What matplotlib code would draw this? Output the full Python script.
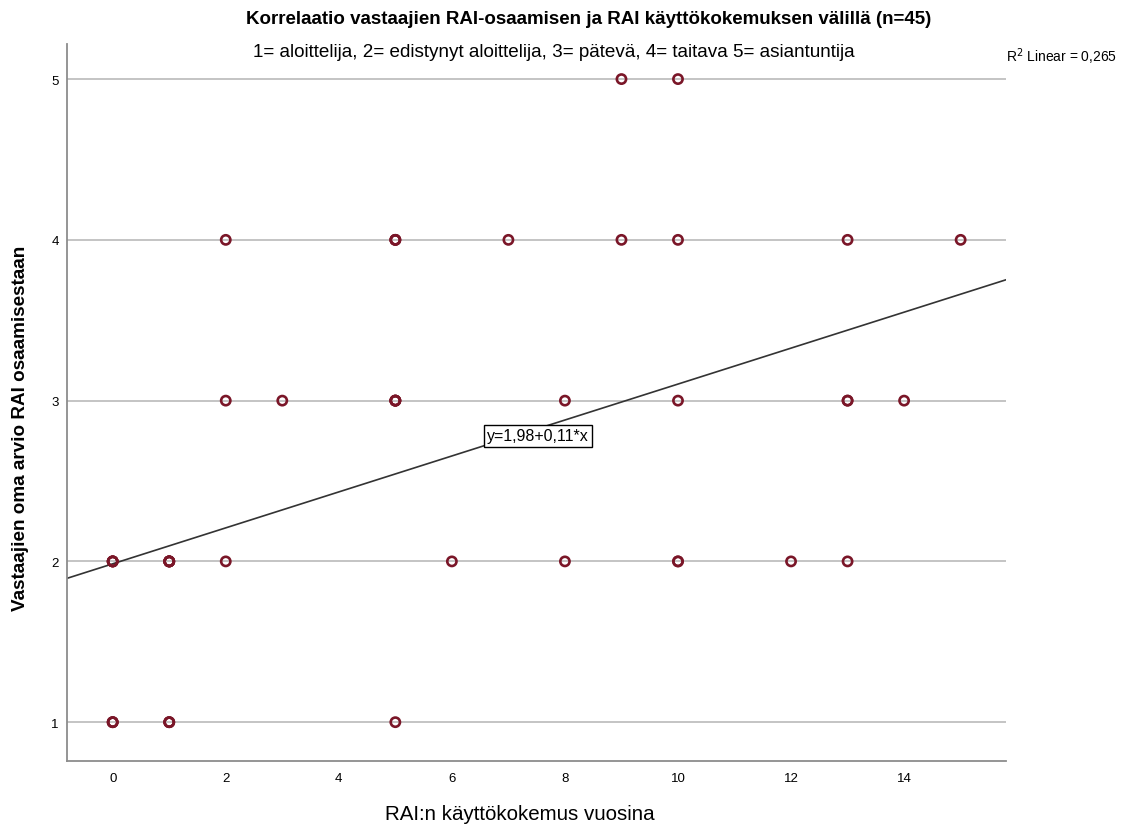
import numpy as np
import matplotlib.pyplot as plt

plt.rcParams['font.family'] = ['Liberation Sans', 'DejaVu Sans']

# kokemus vuosina (x) ja oma arvio osaamisesta (y), n=45
x_years = [9, 10,
           2, 5, 5, 5, 7, 9, 10, 13, 15,
           2, 3, 5, 5, 5, 5, 8, 10, 13, 13, 14,
           0, 0, 0, 0, 1, 1, 1, 1, 1, 2, 6, 8, 10, 10, 12, 13,
           0, 0, 0, 1, 1, 1, 5]
y_skill = [5, 5,
           4, 4, 4, 4, 4, 4, 4, 4, 4,
           3, 3, 3, 3, 3, 3, 3, 3, 3, 3, 3,
           2, 2, 2, 2, 2, 2, 2, 2, 2, 2, 2, 2, 2, 2, 2, 2,
           1, 1, 1, 1, 1, 1, 1]

# fit line (unrounded), shown rounded in the label
intercept = 1.985
slope = 0.1118
r2 = "0,265"

x_ticks = [0, 2, 4, 6, 8, 10, 12, 14]
y_ticks = [1, 2, 3, 4, 5]

fig = plt.figure(figsize=(11.34, 8.28), dpi=100)
ax = fig.add_axes([0.059, 0.080, 0.828, 0.866])

ax.set_xlim(-0.81, 15.8)
ax.set_ylim(0.76, 5.22)

for y in y_ticks:
    ax.axhline(y, color='#c4c4c4', linewidth=1.4, zorder=1)

ax.scatter(x_years, y_skill, s=44, facecolors='none', edgecolors='#7a1628',
           linewidths=1.9, zorder=3)

xs = np.array(ax.get_xlim())
ax.plot(xs, intercept + slope * xs, color='#333333', linewidth=1.2, zorder=2)

ax.text(7.52, 2.78, "y=1,98+0,11*x", fontsize=11.5, ha='center', va='center',
        bbox=dict(boxstyle='square,pad=0.2', facecolor='white', edgecolor='black',
                  linewidth=1), zorder=4)

ax.set_xticks(x_ticks)
ax.set_yticks(y_ticks)
ax.tick_params(length=0, labelsize=9.5, pad=8)
ax.tick_params(axis='y', pad=6)

for side in ['top', 'right']:
    ax.spines[side].set_visible(False)
for side in ['left', 'bottom']:
    ax.spines[side].set_color('#8c8c8c')
    ax.spines[side].set_linewidth(1.3)

fig.text(0.519, 0.976, "Korrelaatio vastaajien RAI-osaamisen ja RAI käyttökokemuksen välillä (n=45)",
         ha='center', va='center', fontsize=13.5, fontweight='bold')
fig.text(0.488, 0.936, "1= aloittelija, 2= edistynyt aloittelija, 3= pätevä, 4= taitava 5= asiantuntija",
         ha='center', va='center', fontsize=13.6)
fig.text(0.887, 0.931, "R$^2$ Linear = " + r2, ha='left', va='center', fontsize=10)

fig.text(0.458, 0.016, "RAI:n käyttökokemus vuosina", ha='center', va='center',
         fontsize=14.8)
fig.text(0.018, 0.483, "Vastaajien oma arvio RAI osaamisestaan", ha='center', va='center',
         rotation=90, fontsize=13.6, fontweight='bold')

fig.savefig("out.png", dpi=100)
